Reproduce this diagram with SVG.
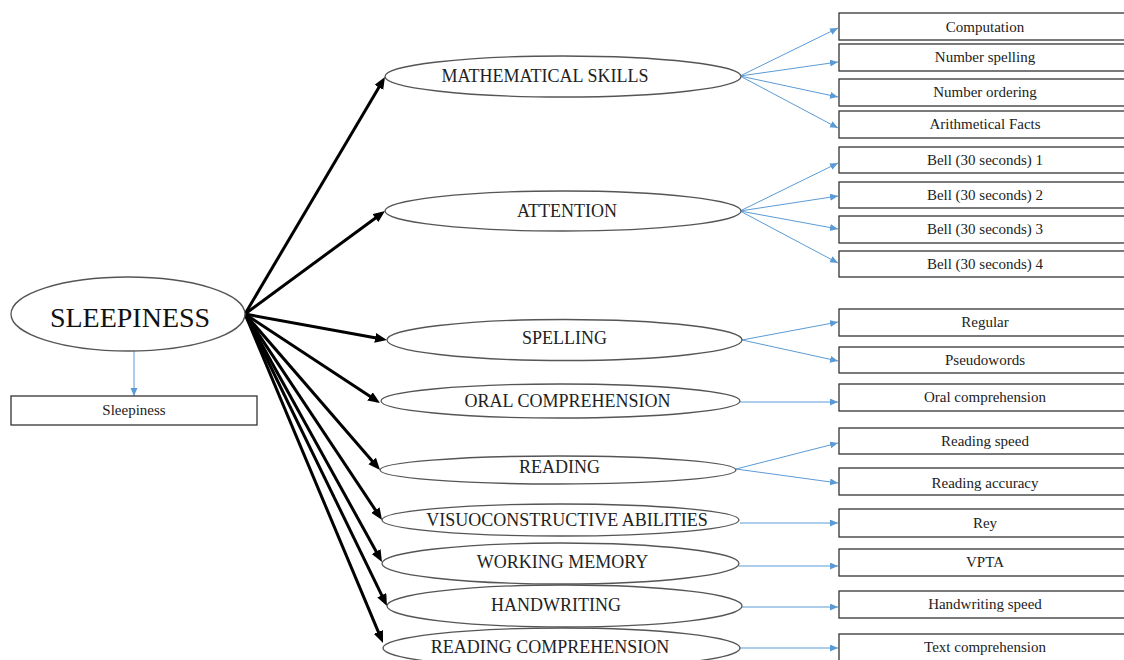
<svg xmlns="http://www.w3.org/2000/svg" width="1124" height="660" viewBox="0 0 1124 660">
<defs>
<style>
.ell{fill:#fff;stroke:#555;stroke-width:1.3}
.box{fill:#fff;stroke:#333;stroke-width:1.3}
.lbl{font-family:"Liberation Serif","DejaVu Serif",serif;font-size:18px;fill:#222;text-anchor:middle}
.bl{font-family:"Liberation Serif","DejaVu Serif",serif;font-size:15px;fill:#222;text-anchor:middle}
.big{font-family:"Liberation Serif","DejaVu Serif",serif;font-size:28px;fill:#111;text-anchor:middle}
.blk{stroke:#000;stroke-width:3;fill:none;marker-end:url(#ah)}
.blu{stroke:#5b9bd5;stroke-width:1;fill:none;marker-end:url(#bh)}
</style>
<marker id="ah" markerUnits="userSpaceOnUse" markerWidth="14" markerHeight="12" refX="4" refY="5" orient="auto"><path d="M0,0 L12,5 L0,10 z" fill="#000"/></marker>
<marker id="bh" markerUnits="userSpaceOnUse" markerWidth="10" markerHeight="8" refX="8" refY="3.5" orient="auto"><path d="M0,0 L8,3.5 L0,7 z" fill="#5b9bd5"/></marker>
</defs>
<rect width="1124" height="660" fill="#fff"/>
<g id="connectors">
<line class="blk" x1="245" y1="314" x2="380.9" y2="83.9"/>
<line class="blk" x1="245" y1="314" x2="378.6" y2="215.7"/>
<line class="blk" x1="245" y1="314" x2="379.1" y2="338.6"/>
<line class="blk" x1="245" y1="314" x2="373.3" y2="398.6"/>
<line class="blk" x1="245" y1="314" x2="374.8" y2="464"/>
<line class="blk" x1="245" y1="314" x2="377.6" y2="513.3"/>
<line class="blk" x1="245" y1="314" x2="378.1" y2="555"/>
<line class="blk" x1="245" y1="314" x2="383.5" y2="598.8"/>
<line class="blk" x1="245" y1="314" x2="379.9" y2="635.6"/>
<line class="blu" x1="134" y1="351" x2="134" y2="396"/>
<line class="blu" x1="740" y1="76" x2="838" y2="28"/>
<line class="blu" x1="740" y1="76" x2="838" y2="62"/>
<line class="blu" x1="740" y1="76" x2="838" y2="97"/>
<line class="blu" x1="740" y1="76" x2="838" y2="128"/>
<line class="blu" x1="740" y1="211" x2="838" y2="163"/>
<line class="blu" x1="740" y1="211" x2="838" y2="196"/>
<line class="blu" x1="740" y1="211" x2="838" y2="229"/>
<line class="blu" x1="740" y1="211" x2="838" y2="263"/>
<line class="blu" x1="742" y1="340" x2="838" y2="322"/>
<line class="blu" x1="742" y1="340" x2="838" y2="361"/>
<line class="blu" x1="740" y1="402" x2="838" y2="402"/>
<line class="blu" x1="736" y1="469" x2="838" y2="443"/>
<line class="blu" x1="736" y1="469" x2="838" y2="483"/>
<line class="blu" x1="740" y1="523" x2="838" y2="523"/>
<line class="blu" x1="739" y1="566" x2="838" y2="566"/>
<line class="blu" x1="742" y1="607" x2="838" y2="607"/>
<line class="blu" x1="740" y1="648" x2="838" y2="648"/>
</g>
<g id="sleepiness"><ellipse class="ell" cx="128" cy="314" rx="117" ry="37"/><text class="big" x="130" y="327">SLEEPINESS</text></g>
<g id="sleepiness-box"><rect class="box" x="11" y="396" width="246" height="29"/><text class="bl" x="134" y="415">Sleepiness</text></g>
<g id="math"><ellipse class="ell" cx="563" cy="76.5" rx="178" ry="20.5"/><text class="lbl" x="545" y="82">MATHEMATICAL SKILLS</text></g>
<g id="attention"><ellipse class="ell" cx="563" cy="211" rx="178" ry="20"/><text class="lbl" x="567" y="217">ATTENTION</text></g>
<g id="spelling"><ellipse class="ell" cx="564.5" cy="340" rx="177.5" ry="20.5"/><text class="lbl" x="564.5" y="344">SPELLING</text></g>
<g id="oral"><ellipse class="ell" cx="560.5" cy="401" rx="179.5" ry="17"/><text class="lbl" x="567.5" y="407">ORAL COMPREHENSION</text></g>
<g id="reading"><ellipse class="ell" cx="558" cy="470" rx="178" ry="14"/><text class="lbl" x="559.5" y="473">READING</text></g>
<g id="visuo"><ellipse class="ell" cx="560.5" cy="520" rx="178.5" ry="16"/><text class="lbl" x="567" y="526">VISUOCONSTRUCTIVE ABILITIES</text></g>
<g id="wm"><ellipse class="ell" cx="560.5" cy="563.5" rx="178.5" ry="20.5"/><text class="lbl" x="562.5" y="568">WORKING MEMORY</text></g>
<g id="handwriting"><ellipse class="ell" cx="564.5" cy="606" rx="177.5" ry="21"/><text class="lbl" x="556" y="611">HANDWRITING</text></g>
<g id="readcomp"><ellipse class="ell" cx="561.5" cy="648" rx="178.5" ry="20"/><text class="lbl" x="550" y="653">READING COMPREHENSION</text></g>
<g id="b-computation"><rect class="box" x="839" y="13" width="300" height="27"/><text class="bl" x="985" y="32">Computation</text></g>
<g id="b-numspell"><rect class="box" x="839" y="44" width="300" height="27"/><text class="bl" x="985" y="62">Number spelling</text></g>
<g id="b-numorder"><rect class="box" x="839" y="79" width="300" height="27"/><text class="bl" x="985" y="97">Number ordering</text></g>
<g id="b-arith"><rect class="box" x="839" y="111" width="300" height="27"/><text class="bl" x="985" y="129">Arithmetical Facts</text></g>
<g id="b-bell1"><rect class="box" x="839" y="147" width="300" height="26"/><text class="bl" x="985" y="165">Bell (30 seconds) 1</text></g>
<g id="b-bell2"><rect class="box" x="839" y="182" width="300" height="26"/><text class="bl" x="985" y="200">Bell (30 seconds) 2</text></g>
<g id="b-bell3"><rect class="box" x="839" y="216" width="300" height="27"/><text class="bl" x="985" y="234">Bell (30 seconds) 3</text></g>
<g id="b-bell4"><rect class="box" x="839" y="251" width="300" height="26"/><text class="bl" x="985" y="269">Bell (30 seconds) 4</text></g>
<g id="b-regular"><rect class="box" x="839" y="309" width="300" height="27"/><text class="bl" x="985" y="327">Regular</text></g>
<g id="b-pseudo"><rect class="box" x="839" y="347" width="300" height="26"/><text class="bl" x="985" y="365">Pseudowords</text></g>
<g id="b-oral"><rect class="box" x="839" y="384" width="300" height="27"/><text class="bl" x="985" y="402">Oral comprehension</text></g>
<g id="b-rspeed"><rect class="box" x="839" y="428" width="300" height="26"/><text class="bl" x="985" y="446">Reading speed</text></g>
<g id="b-racc"><rect class="box" x="839" y="468" width="300" height="27"/><text class="bl" x="985" y="488">Reading accuracy</text></g>
<g id="b-rey"><rect class="box" x="839" y="509" width="300" height="28"/><text class="bl" x="985" y="528">Rey</text></g>
<g id="b-vpta"><rect class="box" x="839" y="549" width="300" height="27"/><text class="bl" x="985" y="567">VPTA</text></g>
<g id="b-hwspeed"><rect class="box" x="839" y="591" width="300" height="27"/><text class="bl" x="985" y="609">Handwriting speed</text></g>
<g id="b-textcomp"><rect class="box" x="839" y="634" width="300" height="30"/><text class="bl" x="985" y="652">Text comprehension</text></g>
</svg>
